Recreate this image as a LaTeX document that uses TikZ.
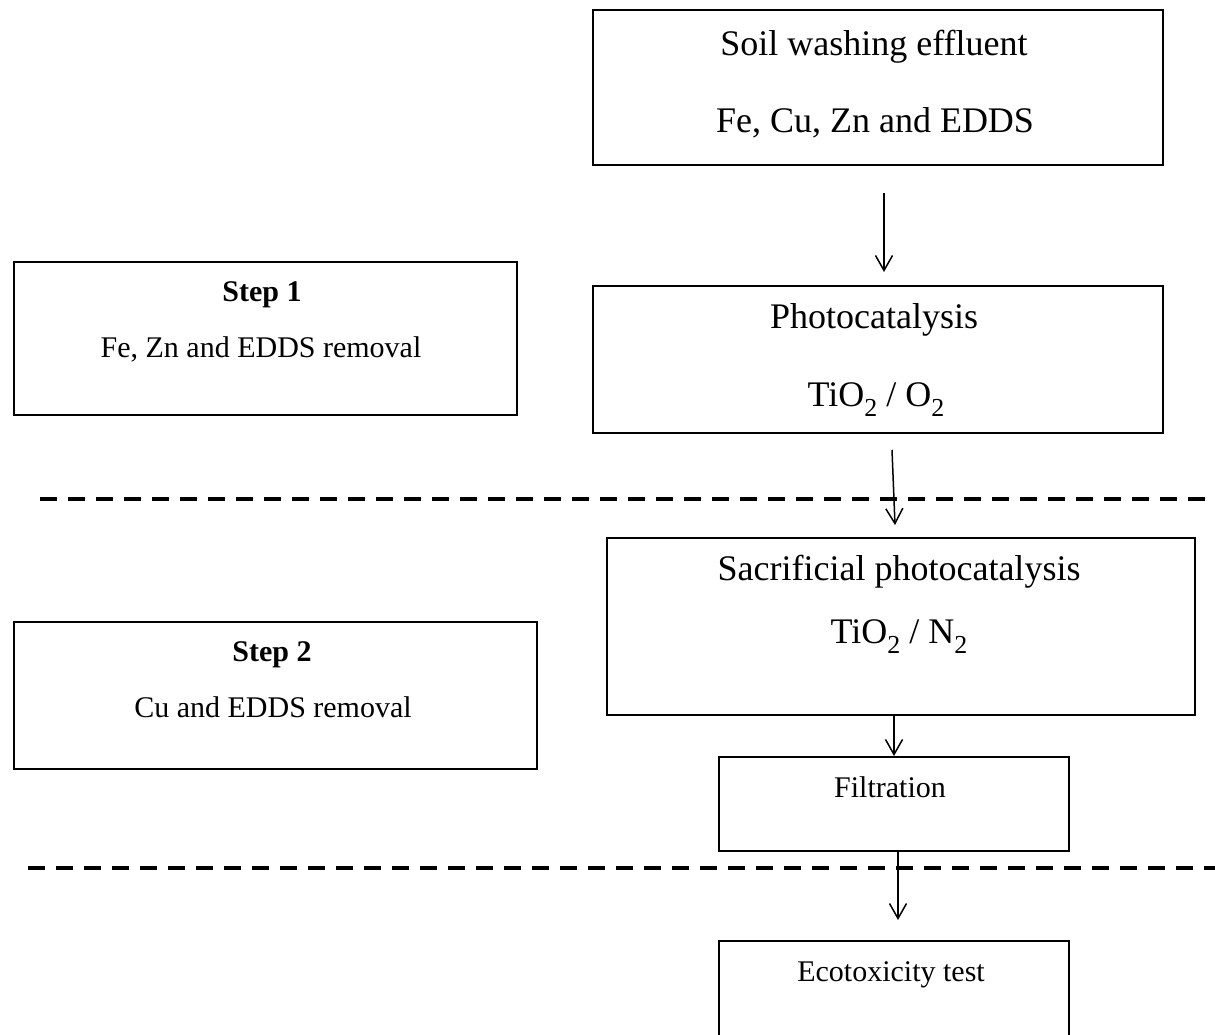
\documentclass[tikz,border=0pt]{standalone}
\usepackage{fontspec}
\setmainfont{Liberation Serif}
\usetikzlibrary{arrows.meta}
\newcommand\chemsub[1]{\raisebox{-0.28em}{\scalebox{0.72}{#1}}}
\begin{document}
\begin{tikzpicture}[x=1pt,y=-1pt,
  box/.style={draw, line width=2pt, rectangle, inner sep=0pt},
  big/.style={font=\fontsize{36}{40}\selectfont, anchor=base, inner sep=0pt},
  small/.style={font=\fontsize{30}{34}\selectfont, anchor=base, inner sep=0pt},
  arr/.style={line width=1.5pt, -{Straight Barb[length=15pt,width=17pt]}},
  sep/.style={line width=4pt, dash pattern=on 17pt off 11pt}]
\useasboundingbox (0,0) rectangle (1215,1034);
\fill[white] (0,0) rectangle (1215,1034);
\clip (0,0) rectangle (1215,1034);

% boxes
\node[box, minimum width=570pt, minimum height=155pt] (soil) at (878,87.5) {};
\node[box, minimum width=570pt, minimum height=147pt] (photo) at (878,359.5) {};
\node[box, minimum width=503pt, minimum height=153pt] (step1) at (265.5,338.5) {};
\node[box, minimum width=588pt, minimum height=177pt] (sac) at (901,626.5) {};
\node[box, minimum width=523pt, minimum height=147pt] (step2) at (275.5,695.5) {};
\node[box, minimum width=350pt, minimum height=94pt] (filt) at (894,804) {};
\node[box, minimum width=350pt, minimum height=139pt] (eco) at (894,1010.5) {};

% texts
\node[big] (soilA) at (874,55) {Soil washing effluent};
\node[big] (soilB) at (875,132) {Fe, Cu, Zn and EDDS};
\node[big] (photoA) at (874,328) {Photocatalysis};
\node[big] (photoB) at (876,406) {TiO\chemsub{2} / O\chemsub{2}};
\node[small] (step1A) at (262,301) {\bfseries Step 1};
\node[small] (step1B) at (261,357) {Fe, Zn and EDDS removal};
\node[big] (sacA) at (899,580) {Sacrificial photocatalysis};
\node[big] (sacB) at (899,643) {TiO\chemsub{2} / N\chemsub{2}};
\node[small] (step2A) at (272,661) {\bfseries Step 2};
\node[small] (step2B) at (273,717) {Cu and EDDS removal};
\node[small] (filtA) at (890,797) {Filtration};
\node[small] (ecoA) at (891,981) {Ecotoxicity test};

% separators (run past the right edge, clipped)
\coordinate (d1a) at (40,499);
\coordinate (d1b) at (1240,499);
\coordinate (d2a) at (28,868);
\coordinate (d2b) at (1240,868);
\draw[sep] (d1a) -- (d1b);
\draw[sep] (d2a) -- (d2b);

% arrows
\coordinate (a1s) at (884,193);
\coordinate (a1e) at (884,272);
\coordinate (a2s) at (892,450);
\coordinate (a2e) at (895,525);
\coordinate (a4e) at (898,920);
\draw[arr] (a1s) -- (a1e);
\draw[arr] (a2s) -- (a2e);
\draw[arr] (filt.north |- sac.south) -- (filt.north);
\draw[arr] (a4e |- filt.south) -- (a4e);
\end{tikzpicture}
\end{document}
